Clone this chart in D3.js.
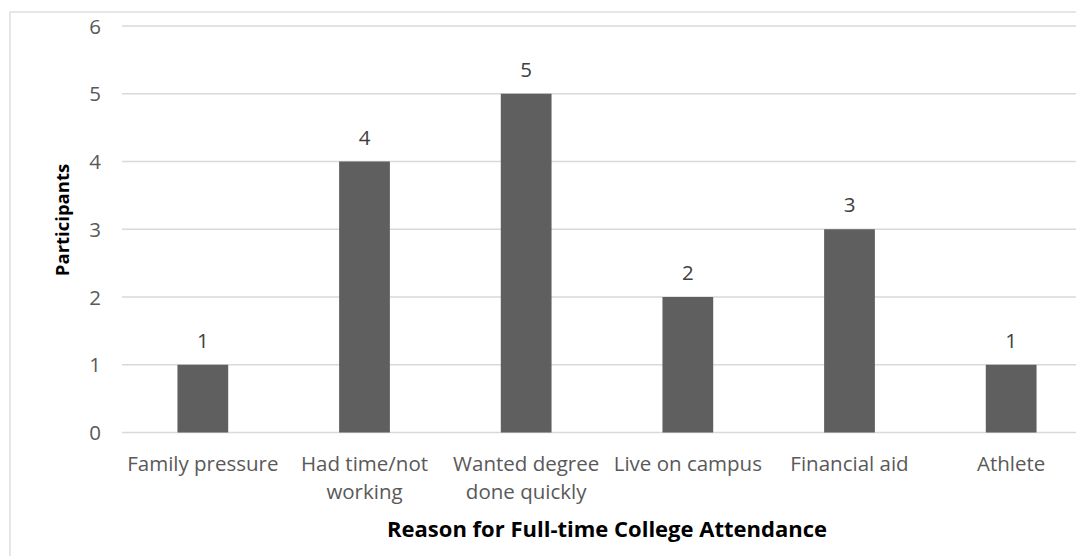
<!DOCTYPE html>
<html>
<head>
<meta charset="utf-8">
<script src="https://cdn.jsdelivr.net/npm/d3@7/dist/d3.min.js"></script>
<style>
  html, body { margin: 0; padding: 0; background: #fff; }
  svg { display: block; }
</style>
</head>
<body>
<svg id="chart" width="1076" height="556"></svg>
<script>
const categories = ["Family pressure", "Had time/not working", "Wanted degree done quickly", "Live on campus", "Financial aid", "Athlete"];
const categoryLines = [["Family pressure"], ["Had time/not", "working"], ["Wanted degree", "done quickly"], ["Live on campus"], ["Financial aid"], ["Athlete"]];
const participants = [1, 4, 5, 2, 3, 1];
const yTicks = [0, 1, 2, 3, 4, 5, 6];
const xTitle = "Reason for Full-time College Attendance";
const yTitle = "Participants";

const font = "'Open Sans', 'Noto Sans', sans-serif";
const svg = d3.select("#chart");

// chart border (extends past the right/bottom edges like the reference crop)
svg.append("rect")
  .attr("x", 10).attr("y", 12)
  .attr("width", 1200).attr("height", 700)
  .attr("fill", "#fff").attr("stroke", "#d9d9d9").attr("stroke-width", 1.3);

const x = d3.scaleBand().domain(categories).range([122, 1092]).paddingInner(0.686).paddingOuter(0.343);
const y = d3.scaleLinear().domain([0, 6]).range([432.5, 26]);

// gridlines
svg.append("g").selectAll("line").data(yTicks).join("line")
  .attr("x1", 122).attr("x2", 1092)
  .attr("y1", d => y(d)).attr("y2", d => y(d))
  .attr("stroke", "#d9d9d9").attr("stroke-width", 1.3);

// y axis tick labels
const yAxis = d3.axisLeft(y).tickValues(yTicks).tickSize(0).tickPadding(0).tickFormat(d3.format("d"));
const gy = svg.append("g").attr("transform", "translate(101,0)").call(yAxis);
gy.select(".domain").remove();
gy.selectAll("text").attr("font-family", font).attr("font-size", 20.5).attr("fill", "#595959").attr("dy", "0.35em");

// bars
svg.append("g").selectAll("rect").data(participants).join("rect")
  .attr("x", (d, i) => x(categories[i]))
  .attr("y", d => y(d))
  .attr("width", x.bandwidth())
  .attr("height", d => y(0) - y(d))
  .attr("fill", "#5f5f5f");

// data labels
svg.append("g").selectAll("text").data(participants).join("text")
  .attr("x", (d, i) => x(categories[i]) + x.bandwidth() / 2)
  .attr("y", d => y(d) - 17)
  .attr("text-anchor", "middle")
  .attr("font-family", font).attr("font-size", 20.5).attr("fill", "#404040")
  .text(d => d);

// x axis category labels
const xAxis = d3.axisBottom(x).tickSize(0).tickFormat(() => "");
const gx = svg.append("g").attr("transform", `translate(0,${y(0)})`).call(xAxis);
gx.select(".domain").remove();
gx.selectAll(".tick").each(function(d, i) {
  const t = d3.select(this).append("text")
    .attr("text-anchor", "middle")
    .attr("font-family", font).attr("font-size", 20.5).attr("fill", "#595959");
  categoryLines[i].forEach((line, j) => {
    t.append("tspan").attr("x", 0).attr("y", 38.5 + j * 28).text(line);
  });
});

// axis titles
svg.append("text")
  .attr("x", 607).attr("y", 537)
  .attr("text-anchor", "middle")
  .attr("font-family", font).attr("font-size", 22).attr("font-weight", "bold").attr("fill", "#000")
  .text(xTitle);

svg.append("text")
  .attr("transform", "translate(63,220) rotate(-90)")
  .attr("text-anchor", "middle").attr("dy", "0.35em")
  .attr("font-family", font).attr("font-size", 18.5).attr("font-weight", "bold").attr("fill", "#000")
  .text(yTitle);
</script>
</body>
</html>
